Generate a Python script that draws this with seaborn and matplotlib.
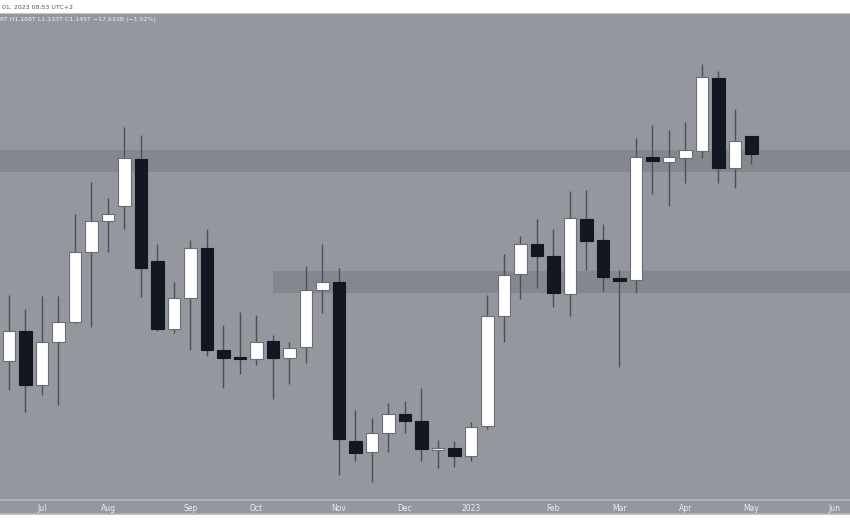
import numpy as np
import pandas as pd
import matplotlib
matplotlib.use("Agg")
import matplotlib.pyplot as plt
import seaborn as sns

# weekly candles, values in trillions (T)
start_date = "2022-06-20"
opens = [0.883, 0.922, 0.853, 0.907, 0.933, 1.021, 1.061, 1.079, 1.139, 1.010,
         0.924, 0.963, 1.026, 0.897, 0.889, 0.886, 0.909, 0.887, 0.901, 0.973,
         0.983, 0.783, 0.768, 0.792, 0.817, 0.808, 0.771, 0.773, 0.763, 0.801,
         0.940, 0.993, 1.032, 1.016, 0.968, 1.063, 1.036, 0.989, 0.986, 1.141,
         1.135, 1.140, 1.149, 1.241, 1.128, 1.168]
highs = [0.967, 0.949, 0.966, 0.966, 1.070, 1.110, 1.090, 1.179, 1.169, 1.031,
         0.983, 1.036, 1.050, 0.929, 0.945, 0.942, 0.916, 0.908, 1.004, 1.031,
         1.001, 0.822, 0.811, 0.830, 0.833, 0.850, 0.784, 0.783, 0.806, 0.967,
         1.019, 1.042, 1.063, 1.051, 1.098, 1.100, 1.057, 0.999, 1.165, 1.182,
         1.176, 1.186, 1.259, 1.250, 1.202, 1.168]
lows = [0.847, 0.819, 0.840, 0.828, 0.931, 0.926, 1.021, 1.051, 0.964, 0.921,
        0.919, 0.897, 0.890, 0.849, 0.867, 0.879, 0.836, 0.854, 0.881, 0.944,
        0.740, 0.757, 0.731, 0.768, 0.792, 0.757, 0.748, 0.749, 0.757, 0.798,
        0.907, 0.962, 0.976, 0.952, 0.940, 0.998, 0.972, 0.876, 0.969, 1.095,
        1.080, 1.108, 1.140, 1.108, 1.102, 1.133]
closes = [0.922, 0.853, 0.907, 0.933, 1.021, 1.061, 1.070, 1.140, 1.001, 0.924,
          0.963, 1.026, 0.897, 0.887, 0.886, 0.908, 0.887, 0.900, 0.973, 0.983,
          0.785, 0.767, 0.793, 0.817, 0.808, 0.772, 0.773, 0.763, 0.800, 0.940,
          0.992, 1.032, 1.016, 0.969, 1.064, 1.035, 0.990, 0.985, 1.141, 1.136,
          1.141, 1.150, 1.242, 1.128, 1.162, 1.145]

# support / resistance zones: (low, high, first bar)
zone_low = [1.122, 0.970]
zone_high = [1.150, 0.997]
zone_start = [-5, 16]

legend_text = "8T H1.168T L1.133T C1.145T \u221217.633B (\u22121.52%)"
header_text = "01, 2023 08:53 UTC+2"

BG = "#95979f"
ZONE = "#85878f"
DARK = "#131722"
WICK = "#4c4f57"

df = pd.DataFrame({"open": opens, "high": highs, "low": lows, "close": closes})
df["date"] = pd.date_range(start_date, periods=len(df), freq="W-MON")
df["x"] = np.arange(len(df))
df["up"] = df["close"] >= df["open"]

# month ticks at first weekly bar of each month
all_dates = pd.date_range(start_date, periods=52, freq="W-MON")
tick_pos = [i for i, d in enumerate(all_dates) if d.day <= 7]
tick_lab = [("2023" if all_dates[i].month == 1 else all_dates[i].strftime("%b")) for i in tick_pos]

sns.set_style("white")
plt.rcParams["font.family"] = ["Liberation Sans Narrow", "DejaVu Sans"]

fig = plt.figure(figsize=(8.5, 5.31), dpi=100, facecolor="white")
H = 531.0

# axis strip behind everything
strip = fig.add_axes([0, 17 / H, 1, 14 / H], zorder=-5)
strip.set_facecolor(BG)
strip.set_xticks([])
strip.set_yticks([])
for s in strip.spines.values():
    s.set_visible(False)

ax = fig.add_axes([0, 31 / H, 1, 487 / H], zorder=1)
ax.set_facecolor(BG)

for lo, hi, st in zip(zone_low, zone_high, zone_start):
    ax.fill_between([st, 60], lo, hi, color=ZONE, linewidth=0, zorder=1)

ax.vlines(df["x"], df["low"], df["high"], color=WICK, linewidth=1, zorder=2)

body_bottom = np.minimum(df["open"], df["close"])
body_h = np.maximum(np.abs(df["close"] - df["open"]), 0.0015)
colors = np.where(df["up"], "white", DARK)
edges = np.where(df["up"], "#6a6d76", DARK)
ax.bar(df["x"], body_h, bottom=body_bottom, width=0.77, color=colors,
       edgecolor=edges, linewidth=0.8, zorder=3)

ax.set_xlim(-0.545, 50.97)
ax.set_ylim(0.7078, 1.3235)
ax.set_yticks([])
ax.set_xticks(tick_pos)
ax.set_xticklabels(tick_lab, fontsize=5.5, color="#eceef2")
ax.tick_params(axis="x", length=0, pad=3)
for s in ax.spines.values():
    s.set_visible(False)

for yp in [31, 17]:
    fig.add_artist(plt.Line2D([0, 1], [yp / H, yp / H], transform=fig.transFigure,
                              color="#b4b6bd", linewidth=1.2))
fig.add_artist(plt.Line2D([0, 1], [518 / H, 518 / H], transform=fig.transFigure,
                          color="#c4c6cc", linewidth=0.8))

fig.text(2 / 850, 524 / H, header_text, fontsize=4.5, color="#555555", va="center")
fig.text(0, 511 / H, legend_text, fontsize=4.5, color="#f0f1f4", va="center")

fig.savefig("out.png", dpi=100, facecolor="white")
